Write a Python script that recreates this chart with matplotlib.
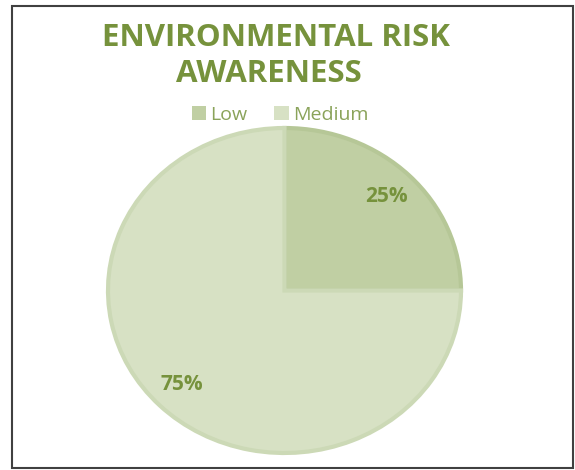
import matplotlib
matplotlib.use("Agg")
import matplotlib.pyplot as plt
from matplotlib.patches import Rectangle

# data
labels = ["Low", "Medium"]
shares = [25, 75]
colors = ["#C0CFA3", "#D7E1C4"]
edges = ["#B6C797", "#CCD9B6"]
text_green = "#76923C"

plt.rcParams['font.family'] = ['Open Sans', 'DejaVu Sans']

fig = plt.figure(figsize=(5.75, 4.7), dpi=100)
# pie in the reference is a bit wider than tall
ax = fig.add_axes([108/575, 17/470, 353/575, 325/470])

wedges, texts, autotexts = ax.pie(shares, colors=colors, startangle=90, counterclock=False,
                                  autopct='%d%%', pctdistance=0.82,
                                  wedgeprops=dict(linewidth=3))
for w, e in zip(wedges, edges):
    w.set_edgecolor(e)
for t in autotexts:
    t.set_color(text_green)
    t.set_fontsize(15)
    t.set_fontweight('bold')
ax.set_aspect('auto')
ax.set_xlim(-1.0, 1.0)
ax.set_ylim(-1.0, 1.0)

fig.text(276/575, 1 - 38/470, "ENVIRONMENTAL RISK", ha='center', va='center',
         fontsize=22.5, fontweight='bold', color=text_green)
fig.text(269/575, 1 - 74/470, "AWARENESS", ha='center', va='center',
         fontsize=22.5, fontweight='bold', color=text_green)

leg = fig.legend(wedges, labels, loc='center', bbox_to_anchor=(280/575, 1 - 115/470),
                 ncol=2, frameon=False, fontsize=14, handlelength=0.75, handleheight=0.75,
                 handletextpad=0.2, columnspacing=1.4, borderpad=0)
for h in leg.legend_handles:
    h.set_linewidth(0)
for t in leg.get_texts():
    t.set_color("#8AA35A")

# outer frame
fig.patches.append(Rectangle((12/575, 2/470), 561/575, 462/470, transform=fig.transFigure,
                             fill=False, edgecolor="#404040", linewidth=1.5))

fig.savefig("out.png", dpi=100)
